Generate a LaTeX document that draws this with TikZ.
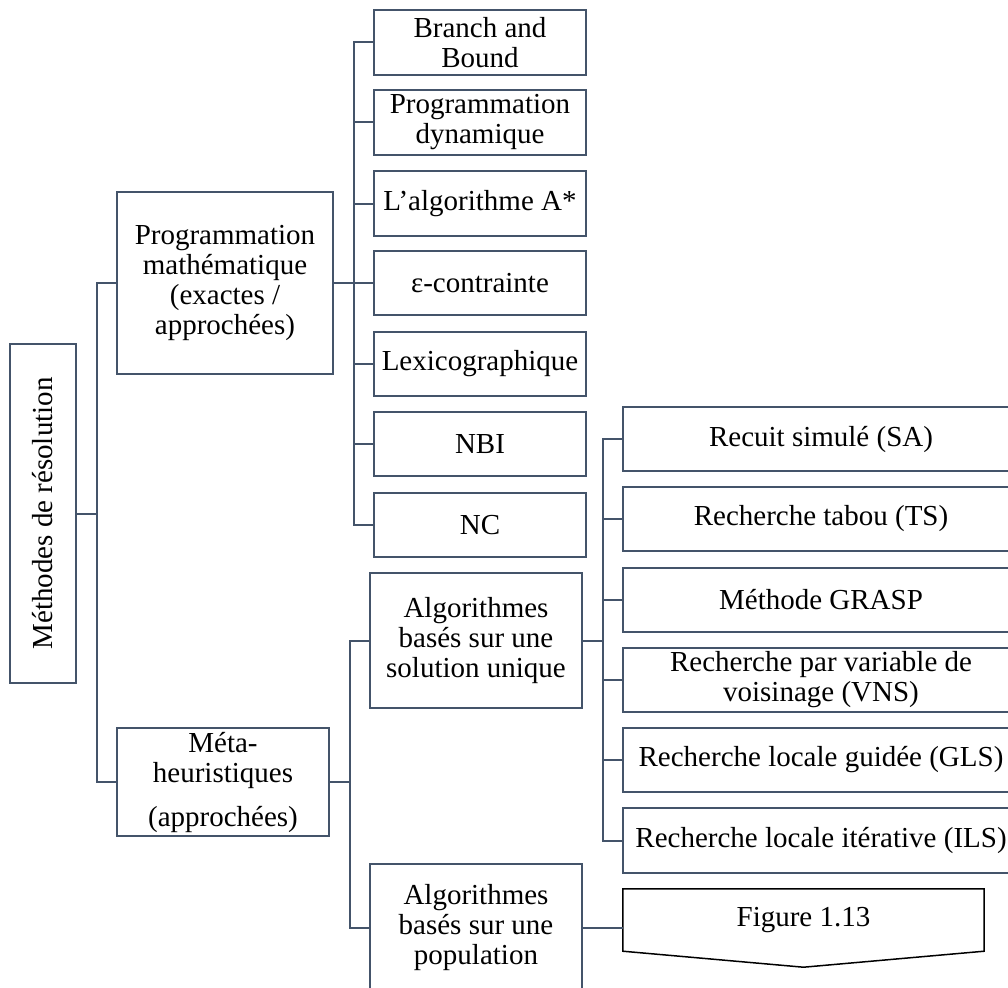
\documentclass[tikz,border=0pt]{standalone}
\usepackage{fontspec}
\setmainfont{Liberation Serif}
\usetikzlibrary{calc}
\definecolor{linec}{RGB}{68,84,106}
\begin{document}
\begin{tikzpicture}[x=1pt,y=-1pt,
  txt/.style={font=\fontsize{29}{30}\selectfont, align=center, inner sep=1pt, text=black},
  box/.style={txt, draw=linec, line width=2pt, minimum width=#1},
  box/.default=212,
  conn/.style={draw=linec, line width=2pt}]
\useasboundingbox (0,0) rectangle (1008,987);

% root
\node[box=339, minimum height=66, rotate=90] (root) at (43,513.5) {Méthodes de résolution};

% level 1
\node[box=216, minimum height=182] (pm) at (225,283) {Programmation\\mathématique\\(exactes /\\approchées)};
\node[box=212, minimum height=108] (meta) at (223,782) {Méta-\\heuristiques\\[14pt](approchées)};

% children of pm
\node[box, minimum height=65] (bb) at (480,42.5) {Branch and\\Bound};
\node[box, minimum height=65] (pd) at (480,122.5) {Programmation\\dynamique};
\node[box, minimum height=65] (astar) at (480,203.5) {L’algorithme A*};
\node[box, minimum height=64] (eps) at (480,283) {ε-contrainte};
\node[box, minimum height=64] (lex) at (480,364) {Lexicographique};
\node[box, minimum height=64] (nbi) at (480,444) {NBI};
\node[box, minimum height=64] (nc) at (480,525) {NC};

% children of meta
\node[box, minimum height=135] (uni) at (476,640.5) {Algorithmes\\basés sur une\\solution unique};
\node[box, minimum height=128] (pop) at (476,928) {Algorithmes\\basés sur une\\population};

% children of uni
\node[box=396, minimum height=64] (sa) at (821,439) {Recuit simulé (SA)};
\node[box=396, minimum height=64] (ts) at (821,519) {Recherche tabou (TS)};
\node[box=396, minimum height=64] (grasp) at (821,600) {Méthode GRASP};
\node[box=396, minimum height=64] (vns) at (821,680) {Recherche par variable de\\voisinage (VNS)};
\node[box=396, minimum height=64] (gls) at (821,760) {Recherche locale guidée (GLS)};
\node[box=396, minimum height=65] (ils) at (821,840.5) {Recherche locale itérative (ILS)};

% figure 1.13 pointer
\node[txt, minimum width=361, minimum height=62] (fig) at (803.5,920) {Figure 1.13};
\draw[black, line width=1.5pt, line join=miter] (fig.south west) -- (fig.north west) -- (fig.north east) -- (fig.south east) -- ($(fig.south)+(0,16)$) -- cycle;

% connectors
\foreach \c in {pm,meta}
  \draw[conn] (root.south) -- ++(20,0) |- (\c.west);
\foreach \c in {bb,pd,astar,eps,lex,nbi,nc}
  \draw[conn] (pm.east) -- ++(20,0) |- (\c.west);
\foreach \c in {uni,pop}
  \draw[conn] (meta.east) -- ++(20,0) |- (\c.west);
\foreach \c in {sa,ts,grasp,vns,gls,ils}
  \draw[conn] (uni.east) -- ++(20,0) |- (\c.west);
\draw[conn] (pop.east) -- (pop.east -| fig.west);
\end{tikzpicture}
\end{document}
